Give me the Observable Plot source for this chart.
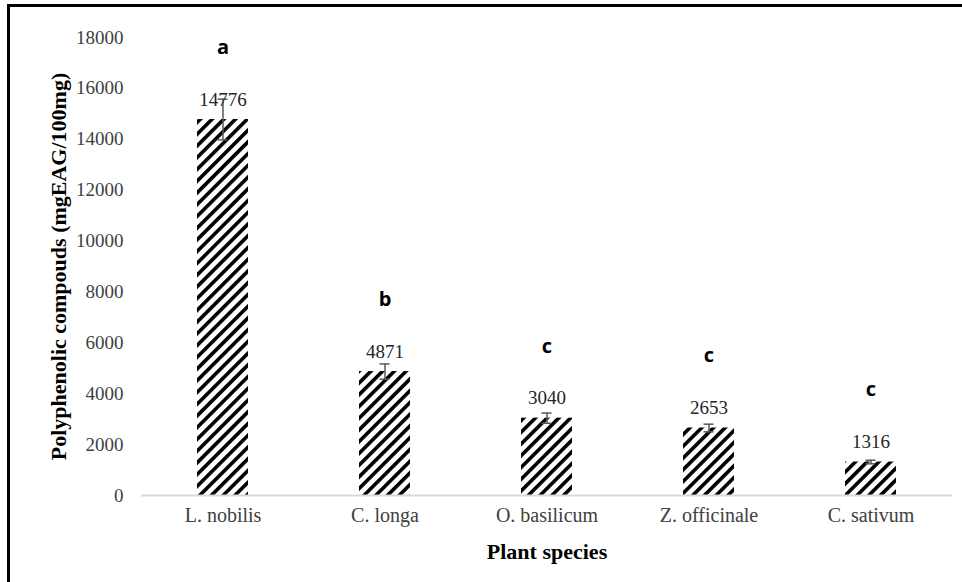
<!DOCTYPE html>
<html><head><meta charset="utf-8">
<script src="https://cdn.jsdelivr.net/npm/d3@7"></script>
<script src="https://cdn.jsdelivr.net/npm/@observablehq/plot@0.6"></script>
<style>
html,body{margin:0;padding:0;background:#fff;overflow:hidden;}
#wrap{position:relative;width:962px;height:582px;overflow:hidden;}
#chart{position:absolute;left:0;top:0;}
#frame{position:absolute;left:7px;top:4px;width:1000px;height:1000px;border-left:3px solid #000;border-top:3px solid #000;pointer-events:none;}
</style></head><body><div id="wrap"><div id="chart"></div><div id="frame"></div></div>
<script>
const species = ["L. nobilis", "C. longa", "O. basilicum", "Z. officinale", "C. sativum"];
const means = [14776, 4871, 3040, 2653, 1316];
const sds = [800, 300, 200, 150, 70];
const letters = ["a", "b", "c", "c", "c"];
const yTicks = [0, 2000, 4000, 6000, 8000, 10000, 12000, 14000, 16000, 18000];
const xTitle = "Plant species";
const yTitle = "Polyphenolic compouds (mgEAG/100mg)";

const data = species.map((s, i) => ({species: s, mean: means[i], sd: sds[i], letter: letters[i]}));
const serif = "'Liberation Serif', 'Times New Roman', serif";

const plot = Plot.plot({
  width: 962, height: 582,
  marginLeft: 141, marginRight: 10, marginTop: 37, marginBottom: 87,
  style: {fontFamily: serif, fontSize: "19px", color: "#404040", background: "transparent"},
  x: {domain: species, paddingInner: 0.685, paddingOuter: 0.3425, label: null},
  y: {domain: [0, 18000], label: null},
  marks: [
    Plot.barY(data, {x: "species", y: "mean", fill: "url(#hatch)"}),
    Plot.ruleY([0], {stroke: "#d9d9d9", strokeWidth: 2}),
    Plot.ruleX(data, {x: "species", y1: d => d.mean - d.sd, y2: d => d.mean + d.sd, stroke: "#595959", strokeWidth: 1.5}),
    Plot.tickY(data, {x: "species", y: d => d.mean + d.sd, stroke: "#595959", strokeWidth: 1.5, insetLeft: 20.5, insetRight: 20.5}),
    Plot.tickY(data, {x: "species", y: d => d.mean - d.sd, stroke: "#595959", strokeWidth: 1.5, insetLeft: 20.5, insetRight: 20.5}),
    Plot.text(data, {x: "species", y: "mean", text: d => String(d.mean), dy: -20, fill: "#262626", fontSize: 19}),
    Plot.text(data, {x: "species", y: "mean", text: "letter", dy: -72, fontFamily: "'Open Sans', sans-serif", fontWeight: "bold", fontSize: 20, fill: "#000"}),
    Plot.axisY({ticks: yTicks, tickFormat: d => String(d), tickSize: 0, tickPadding: 18, label: null, fill: "#404040", fontSize: 19}),
    Plot.axisX({tickSize: 0, tickPadding: 12, label: null, fill: "#404040", fontSize: 20}),
    Plot.text([xTitle], {frameAnchor: "bottom", dy: 56, lineAnchor: "middle", textAnchor: "middle", fontWeight: "bold", fontSize: 22, fill: "#000"}),
    Plot.text([yTitle], {frameAnchor: "left", dx: -83, rotate: -90, lineAnchor: "middle", textAnchor: "middle", fontWeight: "bold", fontSize: 22, fill: "#000"})
  ]
});

const svg = d3.select(plot);
const defs = svg.insert("defs", ":first-child");
const pat = defs.append("pattern")
  .attr("id", "hatch")
  .attr("patternUnits", "userSpaceOnUse")
  .attr("width", 8.3).attr("height", 8.3)
  .attr("patternTransform", "rotate(45)");
pat.append("rect").attr("width", 8.3).attr("height", 8.3).attr("fill", "#fff");
pat.append("rect").attr("width", 3.6).attr("height", 8.3).attr("fill", "#000");

document.getElementById("chart").appendChild(plot);
</script>
</body></html>
